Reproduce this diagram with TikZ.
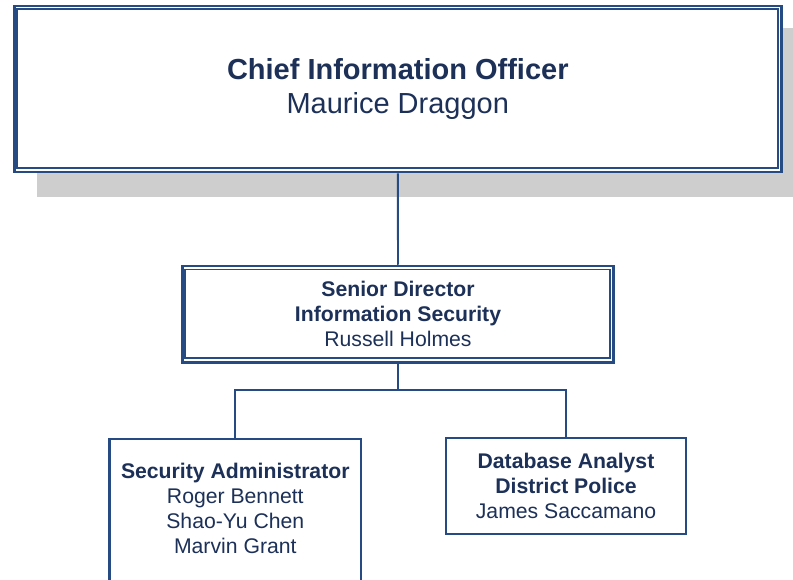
\documentclass[tikz,border=0pt]{standalone}
\usepackage{fontspec}
\setmainfont{Liberation Sans}
\definecolor{boxline}{RGB}{38,74,130}
\definecolor{txt}{RGB}{28,48,88}
\definecolor{shadowgray}{RGB}{206,206,206}
\begin{document}
\begin{tikzpicture}[x=1pt,y=-1pt,
  box/.style={draw=boxline, fill=white, inner sep=0pt, align=center, text=txt},
  link/.style={draw=boxline, line width=1.9pt},
  bigtext/.style={font=\fontsize{29}{34}\selectfont},
  smalltext/.style={font=\fontsize{21.2}{25}\selectfont},
]
\useasboundingbox (0,0) rectangle (793,580);
\clip (0,0) rectangle (793,580);
% shadow
\fill[shadowgray] (37,28) rectangle (793,197);
% top box
\node[box, bigtext, line width=2.6pt, minimum width=767pt, minimum height=166pt] (cio) at (397.8,89)
  {\textbf{Chief Information Officer}\\Maurice Draggon};
\draw[boxline, line width=1.9pt] ([shift={(4.4,4.7)}]cio.north west) rectangle ([shift={(-4.5,-5.2)}]cio.south east);
% middle box
\node[box, smalltext, line width=2.4pt, minimum width=431pt, minimum height=96.7pt] (sid) at (398,314.3)
  {\textbf{Senior Director}\\\textbf{Information Security}\\Russell Holmes};
\draw[boxline, line width=1.7pt] ([shift={(4,4.8)}]sid.north west) rectangle ([shift={(-4.7,-5.6)}]sid.south east);
% bottom left box
\node[box, line width=2.2pt, minimum width=251.5pt, minimum height=200pt, anchor=north] (secadm) at (235.3,438) {};
\node[smalltext, text=txt, align=center, inner sep=0pt, anchor=north] (secadmtext) at (235.3,462.5)
  {\textbf{Security Administrator}\\Roger Bennett\\Shao-Yu Chen\\Marvin Grant};
% bottom right box
\node[box, smalltext, line width=2.2pt, minimum width=240pt, minimum height=96pt] (dba) at (566,486)
  {\textbf{Database Analyst}\\\textbf{District Police}\\James Saccamano};
% connectors
\coordinate (bus) at (398,390);
\draw[link] (cio.south) -- (sid.north);
\draw[link] (sid.south) -- (bus);
\draw[link] (secadm.north) |- (bus) -| (dba.north);
\end{tikzpicture}
\end{document}
